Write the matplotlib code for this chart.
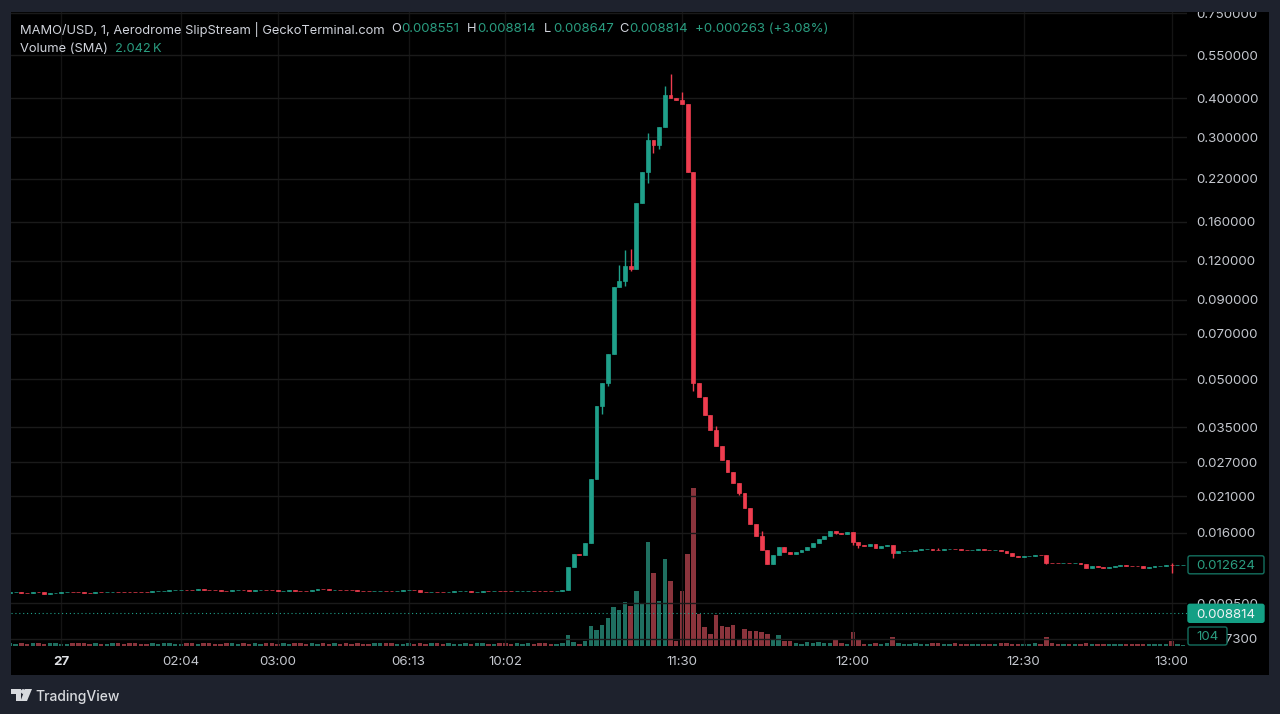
import matplotlib
matplotlib.use("Agg")
import matplotlib.pyplot as plt
from matplotlib.patches import Rectangle, FancyBboxPatch, Polygon
from matplotlib.transforms import IdentityTransform
from matplotlib.ticker import FixedLocator, FixedFormatter, NullLocator

plt.rcParams['font.family'] = ['Inter', 'DejaVu Sans']

W, H = 1280, 714
BG = '#1e222d'
GREEN = '#1fa08a'
RED = '#ee3d4f'
VGREEN = '#1f6f60'
VRED = '#8a343c'
TXT = '#c4c7ce'
GTXT = '#2a9d80'
GRID_H = '#1a1a1a'
GRID_V = '#141414'

left_closes = [
    .01030, .01031, .01024, .01022, .01034, .01030, .01020, .01025, .01028, .01033,
    .01034, .01033, .01029, .01027, .01026, .01031, .01030, .01032, .01036, .01035,
    .01034, .01033, .01032, .01031, .01030, .01040, .01042, .01043, .01044, .01046,
    .01051, .01050, .01049, .01052, .01051, .01050, .01045, .01043, .01042, .01044,
    .01045, .01044, .01043, .01045, .01046, .01045, .01044, .01040, .01043, .01044,
    .01043, .01042, .01041, .01044, .01055, .01053, .01045, .01047, .01046, .01045,
    .01044, .01043, .01042, .01041, .01042, .01043, .01042, .01041, .01043, .01044,
    .01046, .01045, .01035, .01032, .01034, .01033, .01031, .01036, .01037, .01038,
    .01039, .01033, .01034, .01041, .01040, .01042, .01041, .01040, .01039, .01040,
    .01041, .01042, .01041, .01040, .01039, .01038, .01042, .01048,
]
spike_closes = [
    .01245, .01368, .01358, .01487, .02389, .04094, .04854, .06004, .09884, .10357,
    .11574, .11269, .18456, .23220, .29365, .28298, .32262, .41072, .39991, .39403,
    .38338, .23117, .04865, .04366, .03838, .03427, .03044, .02750, .02516, .02309,
    .02154, .01923, .01712, .01566, .01406, .01273, .01358, .01444, .01388, .01368,
]
tail_closes = [
    .01388, .01409, .01444, .01480, .01525, .01563, .01618, .01601, .01590, .01610,
    .01492, .01459, .01451, .01470, .01427, .01446, .01465, .01375, .01395, .01398,
    .01402, .01409, .01416, .01417, .01414, .01413, .01415, .01417, .01415, .01413,
    .01411, .01414, .01417, .01414, .01411, .01413, .01395, .01375, .01348, .01341,
    .01346, .01349, .01361, .01355, .01283, .01280, .01276, .01279, .01277, .01280,
    .01272, .01236, .01248, .01243, .01230, .01242, .01252, .01258, .01254, .01252,
    .01249, .01236, .01245, .01250, .01256, .01262, .01260, .01261, .01262,
]
first_open = .01028

high_bars = [9, 10, 11, 14, 17, 18, 20, 26, 34, 65, 106]
high_vals = [.11634, .13000, .13097, .30997, .43806, .47878, .41995, .03530, .01625, .01430, .01279]
low_bars = [6, 7, 10, 11, 14, 15, 16, 22, 30, 47, 50, 51, 57, 84, 106]
low_vals = [.03858, .04747, .09958, .11128, .21403, .26669, .27532, .04585, .02122, .01583,
            .01462, .01427, .01325, .01267, .01188]

left_volumes = [
    190, 170, 210, 150, 200, 180, 160, 210, 190, 170, 150, 200, 180, 210, 160, 190, 170, 140, 200, 180,
    160, 190, 210, 150, 170, 190, 160, 180, 220, 170, 150, 190, 200, 160, 180, 210, 170, 150, 190, 180,
    160, 200, 170, 190, 150, 210, 180, 160, 190, 170, 230, 200, 160, 180, 150, 190, 170, 210, 160, 180,
    150, 190, 170, 160, 200, 180, 210, 190, 160, 170, 180, 150, 200, 170, 190, 210, 160, 180, 170, 150,
    190, 160, 200, 180, 170, 150, 190, 210, 160, 180, 170, 190, 150, 200, 180, 160, 170, 190,
]
spike_volumes = [
    770, 280, 140, 370, 1400, 1120, 1470, 1960, 2730, 2520, 3080, 2800, 3850, 3010, 7280, 5110, 3150, 6090,
    4550, 350, 3850, 6440, 11060, 2240, 1330, 840, 2170, 1400, 1330, 1470, 490, 1190, 1050, 1050, 980, 840,
    490, 770, 350, 350,
]
tail_volumes = [
    210, 140, 260, 210, 280, 190, 190, 440, 230, 160, 960, 440, 160, 140, 230, 140, 210, 650,
    190, 170, 150, 190, 140, 150, 200, 230, 130, 140, 230, 170, 140, 150, 130, 170, 150, 130, 220,
    190, 170, 130, 150, 130, 240, 160, 640, 200, 170, 130, 150, 120, 130, 200, 120, 130, 170, 120,
    130, 120, 140, 130, 120, 140, 130, 120, 140, 130, 350, 120, 104,
]

price_ticks = [0.75, 0.55, 0.40, 0.30, 0.22, 0.16, 0.12, 0.09, 0.07, 0.05, 0.035, 0.027, 0.021, 0.016, 0.0095, 0.0073]
time_ticks = [9, 30, 47, 70, 87, 118, 148, 178, 204]
time_labels = ['27', '02:04', '03:00', '06:13', '10:02', '11:30', '12:00', '12:30', '13:00']

last_price = 0.008814
mark_price = 0.012624
last_volume = 104

closes = left_closes + spike_closes + tail_closes
opens = [first_open] + closes[:-1]
volumes = left_volumes + spike_volumes + tail_volumes
n_left = len(left_closes)
xs = list(range(len(closes)))

body_low = [min(o, c) for o, c in zip(opens, closes)]
body_size = [abs(c - o) for o, c in zip(opens, closes)]
highs = [max(o, c) for o, c in zip(opens, closes)]
lows = list(body_low)
for b, v in zip(high_bars, high_vals):
    highs[n_left + b] = v
for b, v in zip(low_bars, low_vals):
    lows[n_left + b] = v

fig = plt.figure(figsize=(W / 100, H / 100), dpi=100, facecolor=BG)


def px_box(x0, y0, x1, y1):
    return [x0 / W, 1 - y1 / H, (x1 - x0) / W, (y1 - y0) / H]


def rect_px(x0, y0, x1, y1, color, z):
    fig.add_artist(Rectangle((x0, H - y1), x1 - x0, y1 - y0, transform=IdentityTransform(),
                             facecolor=color, edgecolor='none', zorder=z))


rect_px(11, 12, 1269, 675, '#000000', -1)

pos = px_box(11, 12, 1187, 646)
ax_v = fig.add_axes(pos, zorder=1, facecolor='#000000')
ax = fig.add_axes(pos, zorder=2, facecolor='none')

for a in (ax, ax_v):
    a.set_xlim(0.18, 206.7)
    for s in a.spines.values():
        s.set_visible(False)

# volume pane
ax_v.set_ylim(0, 44380)
vcolors = [VGREEN if c >= o else VRED for o, c in zip(opens, closes)]
ax_v.bar(xs, volumes, width=0.78, color=vcolors, linewidth=0)
ax_v.set_xticks([])
ax_v.set_yticks([])

# price pane
ax.set_yscale('log')
ax.set_ylim(0.006919, 0.7579)
ax.yaxis.set_major_locator(FixedLocator(price_ticks))
ax.yaxis.set_major_formatter(FixedFormatter([f'{p:.6f}' for p in price_ticks]))
ax.yaxis.set_minor_locator(NullLocator())
ax.yaxis.tick_right()
ax.tick_params(axis='y', length=0, pad=7, labelsize=9.6, labelcolor=TXT)
ax.set_xticks(time_ticks)
ax.set_xticklabels(time_labels)
ax.tick_params(axis='x', length=0, pad=7, labelsize=9.6, labelcolor=TXT)
ax.get_xticklabels()[0].set_fontweight('bold')
ax.get_xticklabels()[0].set_color('#e0e2e6')
ax.grid(True, axis='y', color=GRID_H, linewidth=1)
ax.grid(True, axis='x', color=GRID_V, linewidth=1)
ax.set_axisbelow(True)

ccolors = [GREEN if c >= o else RED for o, c in zip(opens, closes)]
ax.vlines(xs, lows, highs, colors=ccolors, linewidth=1.0, zorder=3)
ax.bar(xs, body_size, bottom=body_low, width=0.68, color=ccolors, edgecolor=ccolors,
       linewidth=0.5, zorder=4)
ax.axhline(last_price, color=GREEN, linestyle=(0, (1, 2.5)), linewidth=0.8, zorder=2)

# covers for labels cut at the pane edges
rect_px(0, 0, W, 12, BG, 3)
rect_px(1187, 646, 1269, 675, '#000000', 3)

# price-scale labels
fig.canvas.draw()
to_py = lambda p: H - ax.transData.transform((1, p))[1]


def scale_label(x0, x1, yc, text, face, edge, tcolor, z=4):
    fig.add_artist(FancyBboxPatch((x0, H - yc - 9), x1 - x0, 18,
                                  boxstyle='round,pad=0,rounding_size=2',
                                  transform=IdentityTransform(), facecolor=face, edgecolor=edge,
                                  linewidth=1.0, zorder=z))
    fig.text((x0 + x1) / 2 / W, 1 - yc / H, text, color=tcolor, fontsize=9.6, ha='center',
             va='center_baseline', zorder=z + 1)


scale_label(1188, 1264, to_py(mark_price), f'{mark_price:.6f}', '#000000', '#14705f', GTXT)
scale_label(1188, 1264, to_py(last_price), f'{last_price:.6f}', '#14a085', '#14a085', '#f0f3f5')
scale_label(1188, 1227, 636, str(last_volume), '#000000', '#14705f', GTXT)


# legend
def ftext(x, y, s, color, size=9.25, **kw):
    fig.text(x / W, 1 - y / H, s, color=color, fontsize=size, ha='left', va='center_baseline', zorder=6, **kw)


ftext(20, 28, 'MAMO/USD, 1, Aerodrome SlipStream | GeckoTerminal.com', '#d1d4dc')
for x, s in [(391, 'O'), (467, 'H'), (544, 'L'), (619, 'C')]:
    ftext(x, 28, s, '#d1d4dc')
for x, s in [(401, '0.008551'), (477, '0.008814'), (553, '0.008647'), (629, '0.008814'),
             (695, '+0.000263 (+3.08%)')]:
    ftext(x, 28, s, GTXT, size=9.5)
ftext(20, 47, 'Volume (SMA)', '#d1d4dc')
ftext(115, 47, '2.042\u2009K', GTXT)

# TradingView mark
logo = '#d8dade'
for pts in ([(11, 689), (21, 689), (21, 701), (16, 701), (16, 694), (11, 694)],
            [(25, 689), (32, 689), (27, 701), (20.5, 701)]):
    fig.add_artist(Polygon([(x, H - y) for x, y in pts], closed=True, transform=IdentityTransform(),
                           facecolor=logo, edgecolor='none', zorder=6))
fig.add_artist(plt.Circle((23.2, H - 691.5), 2.4, transform=IdentityTransform(), facecolor=logo,
                          edgecolor='none', zorder=6))
ftext(35, 695, 'TradingView', '#d8dade', size=10.0, fontweight='medium')

fig.savefig('out.png', dpi=100, facecolor=BG)
